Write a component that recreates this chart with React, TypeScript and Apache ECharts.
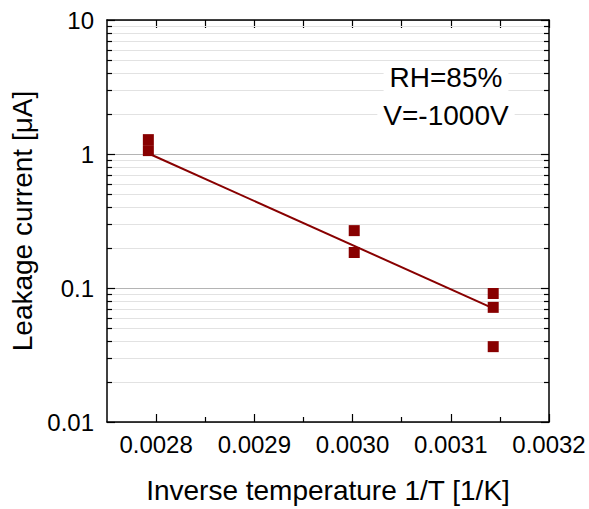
import React, { useEffect, useRef } from "react";
import * as echarts from "echarts";

// Measured leakage current vs inverse temperature (85, 60, 45 degC)
const pointsX = [0.0027921, 0.0027921, 0.0030017, 0.0030017, 0.0031432, 0.0031432, 0.0031432];
const pointsY = [1.28, 1.06, 0.268, 0.184, 0.091, 0.0717, 0.0365];

// Fitted line end points
const fitX = [0.0027935, 0.0031432];
const fitY = [1.0, 0.0705];

// Axis ticks
const xMajorTicks = [0.0028, 0.0029, 0.003, 0.0031, 0.0032];
const xMinorTicks = [0.00285, 0.00295, 0.00305, 0.00315];
const xTopTicks = [0.0028, 0.00285, 0.0029, 0.00295, 0.003, 0.00305, 0.0031, 0.00315, 0.0032];
const yMinorValues = [
  0.02, 0.03, 0.04, 0.05, 0.06, 0.07, 0.08, 0.09,
  0.2, 0.3, 0.4, 0.5, 0.6, 0.7, 0.8, 0.9,
  2, 3, 4, 5, 6, 7, 8, 9,
];

const X_MIN = 0.00275;
const X_MAX = 0.0032;
const Y_MIN = 0.01;
const Y_MAX = 10;

const annotationLines = ["RH=85%", "V=-1000V"];

const FONT = '"Liberation Sans", Arial, Helvetica, sans-serif';
const RED = "#880000";

export default function App() {
  const ref = useRef<HTMLDivElement>(null);

  useEffect(() => {
    if (!ref.current) return;
    document.body.style.margin = "0";
    const chart = echarts.init(ref.current, null, { renderer: "svg" });

    const scatterData = pointsX.map((x, i) => [x, pointsY[i]]);
    const fitData = fitX.map((x, i) => [x, fitY[i]]);
    const minorData = yMinorValues.map((v) => [X_MIN, v]);

    const option: any = {
      animation: false,
      backgroundColor: "#ffffff",
      textStyle: { fontFamily: FONT },
      grid: { left: 107, top: 20, right: 40, bottom: 86, containLabel: false },
      xAxis: [
        {
          type: "value",
          position: "bottom",
          min: X_MIN,
          max: X_MAX,
          name: "Inverse temperature 1/T [1/K]",
          nameLocation: "middle",
          nameGap: 54,
          nameTextStyle: { fontSize: 28, color: "#000", fontFamily: FONT },
          axisLine: { show: true, onZero: false, lineStyle: { color: "#000", width: 1.5 } },
          axisTick: { show: true, inside: true, length: 8, customValues: xMajorTicks, lineStyle: { color: "#000", width: 1.2 } },
          axisLabel: {
            show: true,
            customValues: xMajorTicks,
            margin: 10,
            fontSize: 24,
            color: "#000",
            fontFamily: FONT,
            formatter: (v: number) => v.toFixed(4),
          },
          splitLine: { show: false },
        },
        {
          type: "value",
          position: "bottom",
          min: X_MIN,
          max: X_MAX,
          axisLine: { show: false },
          axisTick: { show: true, inside: true, length: 5, customValues: xMinorTicks, lineStyle: { color: "#000", width: 1.2 } },
          axisLabel: { show: false },
          splitLine: { show: false },
        },
        {
          type: "value",
          position: "top",
          min: X_MIN,
          max: X_MAX,
          axisLine: { show: true, onZero: false, lineStyle: { color: "#000", width: 1.5 } },
          axisTick: { show: true, inside: true, length: 8, customValues: xTopTicks, lineStyle: { color: "#000", width: 1.2 } },
          axisLabel: { show: false },
          splitLine: { show: false },
        },
      ],
      yAxis: [
        {
          type: "log",
          logBase: 10,
          position: "left",
          min: Y_MIN,
          max: Y_MAX,
          name: "Leakage current [\u03bcA]",
          nameLocation: "middle",
          nameGap: 66,
          nameRotate: 90,
          nameTextStyle: { fontSize: 28, color: "#000", fontFamily: FONT },
          axisLine: { show: true, onZero: false, lineStyle: { color: "#000", width: 1.5 } },
          axisTick: { show: true, inside: true, length: 8, lineStyle: { color: "#000", width: 1.2 } },
          axisLabel: {
            show: true,
            margin: 13,
            fontSize: 24,
            color: "#000",
            fontFamily: FONT,
            formatter: (v: number) => String(Number(v.toPrecision(3))),
          },
          splitLine: { show: true, lineStyle: { color: "#b4b4b4", width: 1 } },
        },
        {
          type: "log",
          logBase: 10,
          position: "right",
          min: Y_MIN,
          max: Y_MAX,
          axisLine: { show: true, onZero: false, lineStyle: { color: "#000", width: 1.5 } },
          axisTick: { show: true, inside: true, length: 8, lineStyle: { color: "#000", width: 1.2 } },
          axisLabel: { show: false },
          splitLine: { show: false },
        },
      ],
      series: [
        {
          type: "custom",
          name: "minor",
          xAxisIndex: 0,
          yAxisIndex: 0,
          z: 1,
          silent: true,
          data: minorData,
          renderItem: (params: any, api: any) => {
            const cs = params.coordSys;
            const p = api.coord([api.value(0), api.value(1)]);
            const y = Math.round(p[1]) + 0.5;
            const x0 = cs.x;
            const x1 = cs.x + cs.width;
            return {
              type: "group",
              children: [
                { type: "line", shape: { x1: x0 + 1, y1: y, x2: x1 - 1, y2: y }, style: { stroke: "#e2e2e2", lineWidth: 1 } },
                { type: "line", shape: { x1: x0, y1: y, x2: x0 + 5, y2: y }, style: { stroke: "#000", lineWidth: 1.2 } },
                { type: "line", shape: { x1: x1 - 5, y1: y, x2: x1, y2: y }, style: { stroke: "#000", lineWidth: 1.2 } },
              ],
            };
          },
        },
        {
          type: "line",
          name: "fit",
          xAxisIndex: 0,
          yAxisIndex: 0,
          z: 3,
          data: fitData,
          showSymbol: false,
          symbol: "none",
          lineStyle: { color: RED, width: 2 },
          silent: true,
        },
        {
          type: "scatter",
          name: "data",
          xAxisIndex: 0,
          yAxisIndex: 0,
          z: 4,
          data: scatterData,
          symbol: "rect",
          symbolSize: 11,
          itemStyle: { color: RED, opacity: 1 },
          silent: true,
        },
      ],
      graphic: annotationLines.map((t, i) => ({
        type: "text",
        x: 446,
        y: 77 + i * 38,
        z: 100,
        silent: true,
        style: {
          text: t,
          font: `28px ${FONT}`,
          fill: "#000",
          align: "center",
          verticalAlign: "middle",
          backgroundColor: "#ffffff",
          padding: [0, 6],
        },
      })),
    };

    chart.setOption(option);
    return () => {
      chart.dispose();
    };
  }, []);

  return <div ref={ref} style={{ width: 589, height: 509 }} />;
}
